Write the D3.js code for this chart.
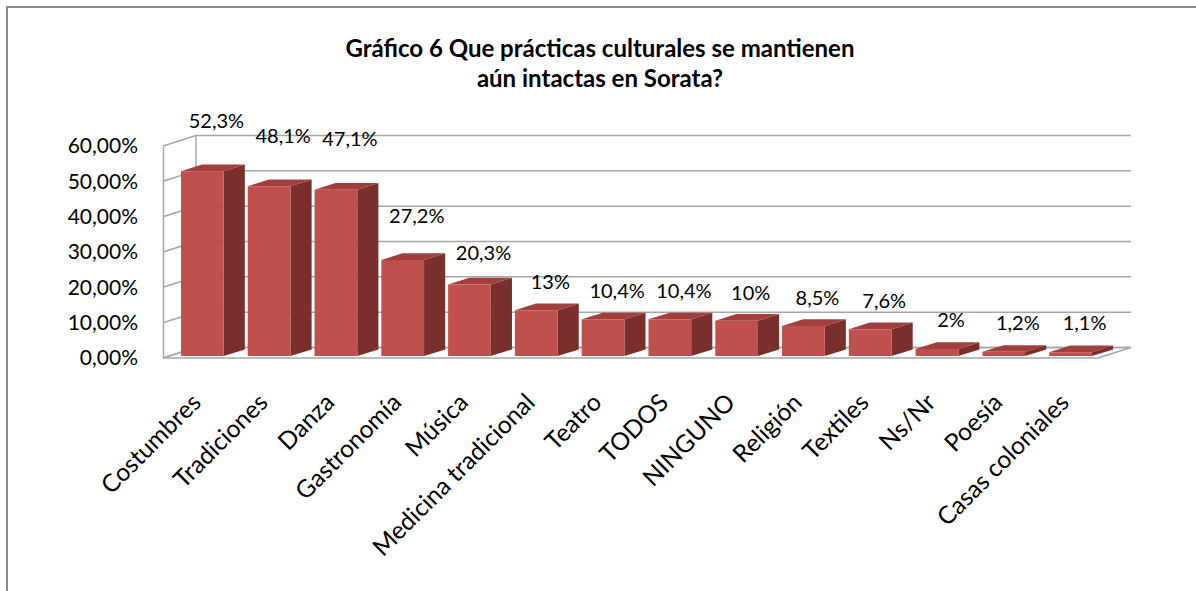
<!DOCTYPE html>
<html>
<head>
<meta charset="utf-8">
<script src="https://cdnjs.cloudflare.com/ajax/libs/d3/7.8.5/d3.min.js"></script>
<style>
  body { margin: 0; background: #fff; }
  text { font-family: Lato, "Open Sans", sans-serif; fill: #000; }
  .title { font-size: 24px; font-weight: bold; }
  .tick-label { font-size: 21px; }
  .cat-label { font-size: 24.5px; }
  .val-label { font-size: 20px; }
</style>
</head>
<body>
<svg id="chart" width="1196" height="591"></svg>
<script>
// data
var categories = ["Costumbres", "Tradiciones", "Danza", "Gastronomía", "Música",
  "Medicina tradicional", "Teatro", "TODOS", "NINGUNO", "Religión", "Textiles",
  "Ns/Nr", "Poesía", "Casas coloniales"];
var values = [52.3, 48.1, 47.1, 27.2, 20.3, 13, 10.4, 10.4, 10, 8.5, 7.6, 2, 1.2, 1.1];
var yTicks = [0, 10, 20, 30, 40, 50, 60];
var titleLines = ["Gráfico 6 Que prácticas culturales se mantienen", "aún intactas en Sorata?"];

var svg = d3.select("#chart");

// 3D depth offset
var DX = 33, DY = -10.5;
var d0 = 0.18, d1 = 0.82;   // bar depth range (fraction of full depth)

var x = d3.scaleBand()
    .domain(categories)
    .range([163, 1098])
    .paddingInner(0.36)
    .paddingOuter(0.18);

var y = d3.scaleLinear()
    .domain([0, 60])
    .range([358, 146]);

// baseline of the value labels (excel 3d places them unevenly)
var labelY = d3.scaleLinear()
    .domain([0, 10, 20, 30, 60])
    .range([334, 300, 262, 208, 100]);

var comma = d3.formatLocale({decimal: ",", thousands: ".", grouping: [3], currency: ["", ""]});
var tickFmt = function(d) { return comma.format(".2f")(d) + "%"; };
var valFmt = function(d) { return String(d).replace(".", ",") + "%"; };

// outer frame
svg.append("rect")
    .attr("x", 7).attr("y", 7)
    .attr("width", 1300).attr("height", 700)
    .attr("fill", "none")
    .attr("stroke", "#8c8c8c")
    .attr("stroke-width", 2);

// title
svg.append("g").selectAll("text")
    .data(titleLines)
    .enter()
    .append("text")
    .attr("class", "title")
    .attr("x", 600)
    .attr("y", function(d, i) { return 57 + i * 30; })
    .attr("text-anchor", "middle")
    .text(function(d) { return d; });

// ---------------------------//
//       WALLS AND GRID       //
// ---------------------------//

var grid = svg.append("g")
    .attr("fill", "none")
    .attr("stroke", "#a6a6a6")
    .attr("stroke-width", 1.5);

// floor
var r0 = x.range()[0], r1 = x.range()[1];
grid.append("path")
    .attr("d", "M" + r0 + "," + y(0) + "L" + r1 + "," + y(0) +
               "L" + (r1 + DX) + "," + (y(0) + DY) + "L" + (r0 + DX) + "," + (y(0) + DY) + "Z");

// back wall left edge
grid.append("line")
    .attr("x1", r0 + DX).attr("x2", r0 + DX)
    .attr("y1", y(0) + DY).attr("y2", y(60) + DY);

grid.selectAll("polyline")
    .data(yTicks)
    .enter()
    .append("polyline")
    .attr("points", function(d) {
        return [[r0, y(d)], [r0 + DX, y(d) + DY], [r1 + DX, y(d) + DY]].join(" ");
    });

// Y axis
var yAxis = svg.append("g")
    .attr("transform", "translate(" + r0 + ",0)")
    .call(d3.axisLeft(y).tickValues(yTicks).tickSize(0).tickPadding(25).tickFormat(tickFmt));
yAxis.select(".domain").attr("stroke", "#a6a6a6").attr("stroke-width", 1.5);
yAxis.selectAll(".tick text")
    .attr("class", "tick-label")
    .attr("font-family", null)
    .attr("font-size", null)
    .attr("fill", "#000");

// ---------------------------//
//       BARS                 //
// ---------------------------//

var bw = x.bandwidth();
var bars = svg.append("g")
    .selectAll("g")
    .data(categories)
    .enter()
    .append("g");

function corner(i, side, v, t) {
    // bar corner (left or right edge), pushed back to depth t
    var px = x(categories[i]) + (side ? bw : 0) + DX * t;
    var py = y(v) + DY * t;
    return [px, py];
}

// right side
bars.append("polygon")
    .attr("fill", "#7a2f2d")
    .attr("points", function(d, i) {
        return [corner(i, 1, 0, d0), corner(i, 1, 0, d1), corner(i, 1, values[i], d1), corner(i, 1, values[i], d0)].join(" ");
    });

// top
bars.append("polygon")
    .attr("fill", "#a13f3c")
    .attr("points", function(d, i) {
        return [corner(i, 0, values[i], d0), corner(i, 1, values[i], d0), corner(i, 1, values[i], d1), corner(i, 0, values[i], d1)].join(" ");
    });

// front
bars.append("polygon")
    .attr("fill", "#c0504d")
    .attr("points", function(d, i) {
        return [corner(i, 0, 0, d0), corner(i, 1, 0, d0), corner(i, 1, values[i], d0), corner(i, 0, values[i], d0)].join(" ");
    });

// value labels
svg.append("g")
    .selectAll("text")
    .data(values)
    .enter()
    .append("text")
    .attr("class", "val-label")
    .attr("x", function(d, i) { return x(categories[i]) + bw / 2 + 20; })
    .attr("y", function(d) { return labelY(d); })
    .attr("text-anchor", "middle")
    .text(valFmt);

// category labels
svg.append("g")
    .selectAll("text")
    .data(categories)
    .enter()
    .append("text")
    .attr("class", "cat-label")
    .attr("text-anchor", "end")
    .attr("transform", function(d) {
        return "translate(" + (x(d) + bw / 2 + 6) + ",404) rotate(-45)";
    })
    .text(function(d) { return d; });
</script>
</body>
</html>
